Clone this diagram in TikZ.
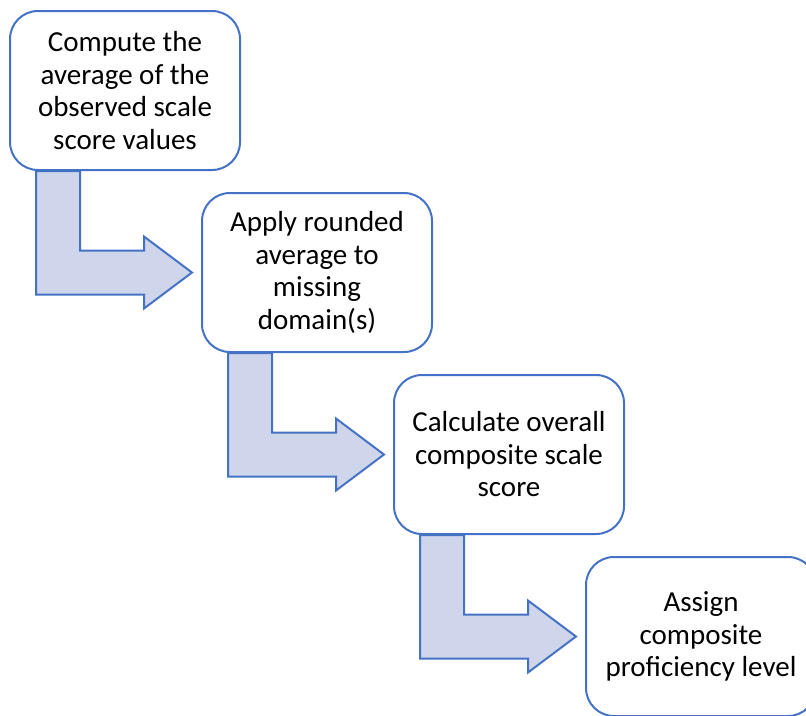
\documentclass[tikz,border=0pt]{standalone}
\usepackage{fontspec}
\setmainfont{Carlito}
\usepackage{tikz}
\usetikzlibrary{positioning, backgrounds}
\definecolor{FlowBlue}{RGB}{68, 114, 196}
\definecolor{FlowFill}{RGB}{207, 213, 234}
\tikzset{
  stage/.style={rectangle, rounded corners=28pt, draw=FlowBlue, line width=2pt, fill=white,
    minimum width=230pt, minimum height=159pt, align=center, inner sep=2pt,
    font=\fontsize{29}{32.5}\selectfont},
  bentarrow/.style={draw=FlowBlue, line width=2pt, fill=FlowFill, line join=miter},
}
\begin{document}
\begin{tikzpicture}[x=1pt, y=-1pt]
    \useasboundingbox (0,0) rectangle (806,715);
    \clip (0,0) rectangle (806,715);
    \node[stage, anchor=north west] (avg) at (9,10) {Compute the\\average of the\\observed scale\\score values};
    \node[stage, below right=21pt and -40pt of avg] (fill) {Apply rounded\\average to\\missing\\domain(s)};
    \node[stage, below right=21pt and -40pt of fill] (comp) {Calculate overall\\composite scale\\score};
    \node[stage, below right=21pt and -40pt of comp] (lvl) {Assign\\composite\\proficiency level};
    \begin{scope}[on background layer]
      \foreach \a/\b in {avg/fill, fill/comp, comp/lvl}
        \draw[bentarrow] ([xshift=27pt]\a.south west) |- ([xshift=-57pt, yshift=-22pt]\b.west)
          -- ([xshift=-57pt, yshift=-36pt]\b.west) -- ([xshift=-9pt]\b.west)
          -- ([xshift=-57pt, yshift=36pt]\b.west) -- ([xshift=-57pt, yshift=22pt]\b.west)
          -| ([xshift=71pt]\a.south west) -- cycle;
    \end{scope}
  \end{tikzpicture}
\end{document}
